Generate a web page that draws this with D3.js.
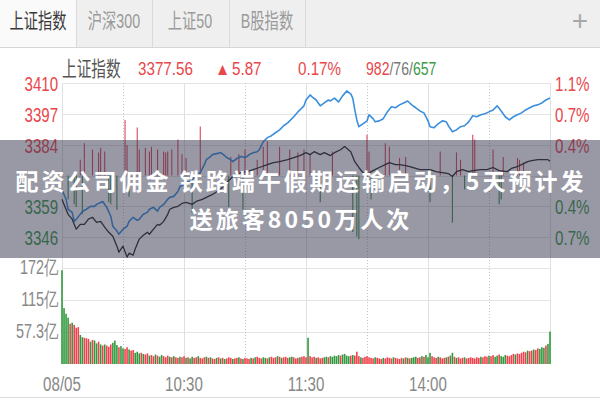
<!DOCTYPE html>
<html><head><meta charset="utf-8">
<script src="https://cdn.jsdelivr.net/npm/d3@7"></script>
<style>
body{margin:0;background:#fff;}
svg{display:block;font-family:"Liberation Sans","Noto Sans CJK SC",sans-serif;}
</style></head><body>
<svg id="chart" width="600" height="400"></svg>
<script>
// ---- data ----
const tabs = ["上证指数", "沪深300", "上证50", "B股指数"];
const indexName = "上证指数";
const lastPrice = "3377.56";
const change = "5.87";
const changePct = "0.17%";
const breadth = ["982", "76", "657"];
const prevClose = 3371.69;

// labelled price levels (previous close sits in the middle, unlabelled)
const priceTicks = [3409.8, 3397.1, 3384.4, 3359.0, 3346.3];
const priceTickLabels = ["3410", "3397", "3384", "3359", "3346"];
const pctTickLabels = ["1.1%", "0.7%", "0.4%", "0.4%", "0.7%"];
const volTicks = [57.3, 115, 172];
const volTickLabels = ["57.3亿", "115亿", "172亿"];
const timeTicks = [0, 60, 120, 180];
const timeLabels = ["08/05", "10:30", "11:30", "14:00"];
const headline = ["配资公司佣金 铁路端午假期运输启动，5天预计发", "送旅客8050万人次"];

// index price by minute of session [minute, points]
const priceLine = [[0,3361.9],[1,3359.8],[3,3355.7],[5,3353.7],[7,3349.6],[9,3351.6],[11,3351.6],[13,3353.7],[15,3354.5],[17,3352.4],[19,3352.8],[21,3350.4],[23,3348.3],[25,3346.7],[27,3342.6],[28,3340.1],[30,3342.6],[32,3338.1],[33,3339.7],[35,3338.9],[36,3341.4],[38,3345.5],[40,3347.1],[42,3348.3],[43,3347.5],[45,3349.6],[47,3351.6],[48,3351.2],[50,3352.8],[52,3355.7],[53,3357.8],[55,3358.6],[57,3359.0],[59,3360.2],[61,3360.6],[64,3359.8],[66,3361.0],[69,3361.9],[71,3362.7],[74,3363.9],[78,3366.0],[81,3368.8],[84,3371.3],[88,3372.9],[91,3373.3],[94,3374.1],[97,3375.0],[101,3376.2],[104,3377.0],[107,3377.4],[111,3378.2],[114,3379.1],[117,3379.9],[120,3381.1],[122,3380.3],[124,3381.5],[127,3380.3],[129,3381.1],[132,3379.9],[134,3381.1],[137,3382.3],[139,3383.6],[142,3381.5],[144,3377.4],[146,3375.0],[148,3372.9],[150,3371.7],[152,3373.3],[154,3374.1],[156,3375.0],[159,3376.2],[161,3377.0],[164,3376.2],[166,3376.2],[169,3375.8],[171,3375.4],[174,3374.6],[176,3374.1],[179,3374.1],[181,3374.1],[184,3373.3],[187,3372.9],[190,3372.5],[192,3371.3],[194,3373.3],[197,3374.1],[200,3373.3],[202,3373.7],[206,3374.1],[209,3374.1],[212,3375.0],[215,3373.7],[219,3373.3],[221,3374.6],[224,3375.4],[226,3376.2],[229,3377.4],[231,3377.8],[234,3378.2],[236,3378.2],[239,3378.2],[240,3377.56]];

// leading indicator line [minute, points]
const leadLine = [[0,3365.9],[2,3361.9],[3,3357.8],[5,3356.5],[6,3352.8],[7,3353.7],[9,3355.7],[10,3356.9],[12,3357.8],[14,3359.0],[16,3359.0],[17,3359.8],[19,3360.6],[20,3361.0],[22,3358.6],[24,3354.9],[25,3350.8],[27,3348.8],[28,3347.5],[30,3349.6],[32,3350.8],[33,3352.8],[35,3354.5],[37,3353.2],[38,3353.7],[40,3355.7],[42,3356.5],[43,3357.8],[45,3358.6],[47,3357.0],[48,3358.6],[50,3359.8],[52,3361.9],[53,3362.7],[55,3363.1],[57,3365.1],[58,3367.2],[60,3368.0],[61,3368.8],[63,3369.2],[64,3370.1],[66,3371.3],[68,3372.9],[70,3376.2],[71,3378.2],[73,3379.5],[74,3380.3],[76,3380.7],[78,3381.1],[80,3379.9],[81,3379.1],[83,3378.2],[84,3377.4],[86,3378.7],[88,3379.5],[90,3379.1],[91,3379.5],[92,3380.3],[94,3381.1],[96,3381.5],[97,3382.3],[99,3385.6],[101,3387.3],[103,3388.1],[105,3389.3],[107,3390.5],[109,3392.2],[111,3393.4],[114,3395.9],[116,3397.9],[117,3398.7],[119,3400.4],[120,3402.8],[122,3404.9],[123,3404.1],[125,3402.8],[127,3400.4],[129,3401.6],[131,3402.8],[132,3402.4],[134,3403.6],[136,3402.0],[138,3404.5],[140,3406.5],[142,3405.3],[143,3403.6],[144,3398.7],[145,3394.6],[146,3391.8],[148,3393.0],[150,3394.2],[151,3396.7],[153,3395.1],[154,3393.8],[156,3394.2],[158,3395.1],[160,3397.9],[162,3400.0],[164,3399.6],[166,3400.8],[168,3401.6],[170,3402.4],[172,3400.8],[174,3399.6],[176,3398.3],[178,3397.5],[180,3394.2],[181,3391.8],[183,3391.4],[185,3393.0],[187,3394.2],[189,3393.8],[190,3392.2],[192,3389.7],[194,3390.5],[196,3391.8],[198,3392.2],[200,3393.8],[202,3396.3],[204,3395.9],[206,3396.7],[208,3397.1],[210,3397.9],[212,3398.7],[214,3400.4],[216,3398.3],[218,3395.9],[220,3394.6],[222,3395.9],[224,3396.7],[226,3397.5],[228,3398.7],[230,3399.6],[232,3400.4],[234,3400.8],[236,3401.6],[238,3402.8],[240,3403.6]];

// buy/sell strength columns around the previous close [minute, strength]
const strengthBars = [[3,-26],[6,-31],[7,-34],[9,17],[10,-42],[11,35],[15,28],[18,25],[19,30],[21,26],[23,-29],[24,-31],[27,-37],[31,60],[32,33],[33,-23],[37,52],[38,28],[41,30],[43,26],[44,31],[47,28],[50,26],[51,25],[52,26],[54,28],[57,39],[59,23],[61,19],[64,-40],[68,53],[82,-34],[83,20],[87,23],[89,-37],[90,28],[96,17],[99,31],[101,37],[107,31],[112,28],[116,25],[119,28],[122,23],[127,-29],[133,26],[143,-61],[145,-66],[146,-69],[150,44],[151,26],[152,-26],[159,35],[161,31],[166,19],[169,20],[181,-29],[186,26],[192,-51],[194,25],[196,17],[198,-15],[202,44],[203,39],[212,28],[215,-31],[216,-26],[217,20],[224,19],[225,17],[227,14]];

// turnover per minute, 亿
const volume = [
  168,100,90,83,72,74,70,65,66,52,48,
  47,46,45,40,43,42,37,40,35,33,
  35,33,31,35,38,42,34,30,32,28,
  27,30,26,24,25,20,22,19,20,18,
  17,19,15,16,14,17,15,13,16,14,
  12,15,13,12,14,12,11,13,12,14,
  11,12,10,13,11,12,14,11,10,12,
  13,11,12,10,9,11,12,10,11,9,
  10,12,11,9,10,11,12,10,9,11,
  10,9,11,10,12,13,11,10,12,11,
  10,12,13,11,12,14,13,11,12,13,
  11,12,13,12,10,11,12,13,14,12,
  47,14,12,13,11,12,10,11,12,13,
  12,14,13,15,14,16,15,17,18,15,
  14,15,16,15,22,14,12,11,13,14,
  12,11,10,12,11,10,9,11,10,12,
  11,10,12,11,10,9,11,10,12,11,
  10,11,12,13,11,12,14,13,16,12,
  20,14,12,11,13,12,10,11,12,13,
  15,20,13,11,12,10,11,12,10,11,
  12,11,10,12,11,13,12,14,13,15,
  14,16,13,15,17,14,13,16,15,14,
  16,18,17,19,18,20,22,21,24,23,
  24,26,25,28,27,30,29,33,36,58
];
// r = up minute, g = down minute
const volumeDir = (
  "ggggrgrrrggrrrgrggrgr" + "grrrgggrggrrgrrgggrg" + "rrgrrgrggrrrgrgrrgrr" +
  "grggrrgrrrgrgrrgrgrg" + "rrrgrrgrgrrrgrgrrrgg" + "rgrrrgrgrrrggrrrgrrr" +
  "grrrgrrrggrgggggrggg" + "grgrrrgrrrrrrgrrrgrr" + "rrgrrrrgrgrgggrrgrgg" +
  "grrrgrrrgrggrgrrrgrr" + "rrrrrgrrrgrrggrgggrr" + "rrgrrrrrgrrgrrgggrgg"
).split("");

// ---- layout ----
const W = 600, H = 400;
const plotL = 62, plotR = 550;
const priceTop = 83, priceBot = 268;
const volTop = 268, volBot = 364;
const SX = 0.72;               // condensed glyph width
const RED = "#e8474c", GREEN = "#3c9a48";

const svg = d3.select("#chart");
svg.append("rect").attr("width", W).attr("height", H).attr("fill", "#fff");

const x = d3.scaleLinear().domain([0, 240]).range([plotL, plotR]);
const yPrice = d3.scaleLinear().domain([3333.6, 3409.8]).range([priceBot, priceTop]);
const yStrength = d3.scaleLinear().domain([-100, 100]).range([priceBot, priceTop]);
const yVol = d3.scaleLinear().domain([0, 172]).range([volBot, volTop]);

function label(g, txt, px, py, opts) {
  const t = g.append("text")
    .attr("transform", `translate(${px},${py}) scale(${opts.sx || SX},1)`)
    .attr("font-size", opts.size || 20)
    .attr("fill", opts.fill || "#333")
    .attr("text-anchor", opts.anchor || "start")
    .text(txt);
  if (opts.weight) t.attr("font-weight", opts.weight);
  return t;
}

// ---- tab bar ----
const tabBar = svg.append("g");
tabBar.append("rect").attr("x", 0).attr("y", 0).attr("width", W).attr("height", 47).attr("fill", "#efefef");
tabBar.append("rect").attr("x", 0).attr("y", 0).attr("width", 76).attr("height", 47).attr("fill", "#fafafa");
const tabEdges = [76, 152, 229, 305];
tabEdges.forEach(e => tabBar.append("line").attr("x1", e + 0.5).attr("x2", e + 0.5).attr("y1", 0).attr("y2", 47)
  .attr("stroke", "#dadada"));
tabBar.append("line").attr("x1", 0).attr("x2", W).attr("y1", 47.5).attr("y2", 47.5).attr("stroke", "#d6d6d6");
const tabCenters = [38, 114, 190, 267];
tabs.forEach((t, i) => label(tabBar, t, tabCenters[i], 28, {
  size: 21, anchor: "middle", fill: i === 0 ? "#3a3a3a" : "#9a9a9a", sx: 0.68 }));
label(tabBar, "+", 580, 30, { size: 28, anchor: "middle", fill: "#a8a8a8", sx: 1 });

// ---- quote line ----
const quote = svg.append("g");
label(quote, indexName, 62, 76, { size: 21, fill: "#555", sx: 0.7 });
label(quote, lastPrice, 138, 75, { size: 19, fill: RED, sx: 0.8 });
label(quote, "▲", 215, 75, { size: 17, fill: RED, sx: 0.9 });
label(quote, change, 232, 75, { size: 19, fill: RED, sx: 0.8 });
label(quote, changePct, 298, 75, { size: 19, fill: RED, sx: 0.8 });
const br = quote.append("text").attr("transform", `translate(366,75) scale(0.74,1)`).attr("font-size", 19);
br.append("tspan").attr("fill", RED).text(breadth[0]);
br.append("tspan").attr("fill", "#777").text("/" + breadth[1] + "/");
br.append("tspan").attr("fill", GREEN).text(breadth[2]);

// ---- grid ----
const grid = svg.append("g").attr("shape-rendering", "crispEdges");
priceTicks.concat([prevClose, 3333.6]).forEach(v => grid.append("line")
  .attr("x1", plotL).attr("x2", plotR).attr("y1", Math.round(yPrice(v)) + 0.5).attr("y2", Math.round(yPrice(v)) + 0.5)
  .attr("stroke", "#e4e4e4"));
volTicks.forEach(v => grid.append("line")
  .attr("x1", plotL).attr("x2", plotR).attr("y1", Math.round(yVol(v)) + 0.5).attr("y2", Math.round(yVol(v)) + 0.5)
  .attr("stroke", "#e4e4e4"));
[0, 30, 60, 90, 120, 150, 180, 210, 240].forEach(m => {
  const half = m % 60 === 30;
  grid.append("line").attr("x1", Math.round(x(m)) + 0.5).attr("x2", Math.round(x(m)) + 0.5)
    .attr("y1", priceTop).attr("y2", volBot)
    .attr("stroke", half ? "#c4c4c4" : "#e0e0e0")
    .attr("stroke-dasharray", half ? "1,2" : null);
});

// ---- axes ----
const axL = d3.axisLeft(yPrice).tickValues(priceTicks).tickFormat((d, i) => priceTickLabels[i]).tickSize(0).tickPadding(4);
const gL = svg.append("g").attr("transform", `translate(${plotL - 1},0)`).call(axL);
const axR = d3.axisRight(yPrice).tickValues(priceTicks).tickFormat((d, i) => pctTickLabels[i]).tickSize(0).tickPadding(7);
const gR = svg.append("g").attr("transform", `translate(${plotR},0)`).call(axR);
[gL, gR].forEach(g => {
  g.select(".domain").remove();
  g.selectAll("text").attr("font-size", 21).attr("font-family", "Liberation Sans, sans-serif")
    .attr("dy", "0.36em").attr("transform", `scale(${SX},1)`)
    .attr("fill", d => d > prevClose ? RED : GREEN);
});
const axV = d3.axisLeft(yVol).tickValues(volTicks).tickFormat((d, i) => volTickLabels[i]).tickSize(0).tickPadding(4);
const gV = svg.append("g").attr("transform", `translate(${plotL - 1},-2)`).call(axV);
gV.select(".domain").remove();
gV.selectAll("text").attr("font-size", 20).attr("fill", "#888").attr("dy", "0.36em")
  .attr("transform", `scale(${SX},1)`);
const axT = d3.axisBottom(x).tickValues(timeTicks).tickFormat((d, i) => timeLabels[i]).tickSize(0);
const gT = svg.append("g").attr("transform", `translate(0,383)`).call(axT);
gT.select(".domain").remove();
gT.selectAll("text").attr("font-size", 21).attr("fill", "#888").attr("y", 0).attr("dy", "0.36em")
  .attr("transform", `scale(${SX},1)`);
gT.selectAll(".tick").attr("transform", d => `translate(${x(d)},0)`);

// ---- strength columns ----
svg.append("g").selectAll("line").data(strengthBars).join("line")
  .attr("x1", d => x(d[0])).attr("x2", d => x(d[0]))
  .attr("y1", yStrength(0)).attr("y2", d => yStrength(d[1]))
  .attr("stroke", d => d[1] >= 0 ? "#d9485a" : "#3f8f4c").attr("stroke-width", 1.1);

// ---- lines ----
const line = d3.line().x(d => x(d[0])).y(d => yPrice(d[1]));
svg.append("path").datum(leadLine).attr("d", line).attr("fill", "none")
  .attr("stroke", "#3b8fdc").attr("stroke-width", 1.6).attr("stroke-linejoin", "round");
svg.append("path").datum(priceLine).attr("d", line).attr("fill", "none")
  .attr("stroke", "#2a2a2a").attr("stroke-width", 1.3).attr("stroke-linejoin", "round");

// ---- turnover bars ----
svg.append("g").selectAll("rect").data(volume).join("rect")
  .attr("x", (d, i) => x(i) - 0.8).attr("width", 1.6)
  .attr("y", d => yVol(d)).attr("height", d => yVol(0) - yVol(d))
  .attr("fill", (d, i) => volumeDir[i] === "r" ? "#f0414f" : "#2f9a3c");

// footer rule
svg.append("line").attr("x1", 0).attr("x2", W).attr("y1", 397.5).attr("y2", 397.5).attr("stroke", "#dcdcdc");

// ---- headline banner ----
const banner = svg.append("g");
banner.append("rect").attr("x", 0).attr("y", 140).attr("width", W).attr("height", 118)
  .attr("fill", "rgba(52,52,78,0.5)");
headline.forEach((t, i) => banner.append("text")
  .attr("x", 301).attr("y", 190 + i * 38)
  .attr("text-anchor", "middle")
  .attr("font-family", "Noto Sans CJK SC, sans-serif")
  .attr("font-weight", "bold").attr("font-size", 23).attr("letter-spacing", 3)
  .attr("fill", "#fff").text(t));
</script>
</body></html>
